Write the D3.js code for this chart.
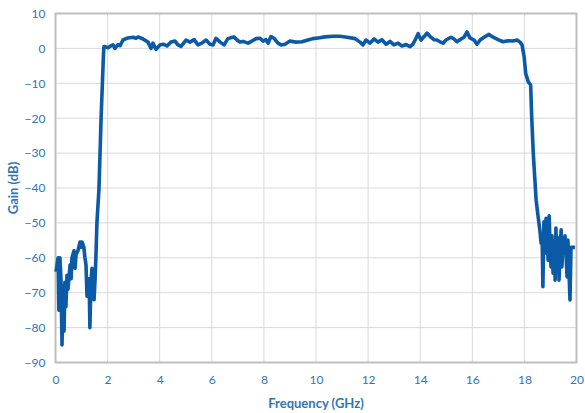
<!DOCTYPE html>
<html>
<head>
<meta charset="utf-8">
<script src="https://cdn.jsdelivr.net/npm/d3@7"></script>
<style>
  body { margin: 0; background: #fff; }
  svg text { font-family: Lato, "Open Sans", sans-serif; fill: #2e75b6; }
  .grid line { stroke: #d9d9d9; stroke-width: 1; }
  .tick text { font-size: 12px; }
</style>
</head>
<body>
<script>
var freq = [
  0.02, 0.06, 0.10, 0.13, 0.17, 0.21, 0.25, 0.29, 0.33, 0.36, 0.40, 0.44, 0.48, 0.56, 0.60, 0.63,
  0.71, 0.75, 0.79, 0.86, 0.94, 0.98, 1.02, 1.09, 1.13, 1.17, 1.21, 1.25, 1.29, 1.32, 1.36, 1.40,
  1.44, 1.48, 1.52, 1.55, 1.59, 1.67, 1.75, 1.80, 1.84, 1.86,
  1.90, 2.02, 2.09, 2.21, 2.28, 2.40, 2.48, 2.59, 2.78, 2.98, 3.09, 3.17, 3.36, 3.55, 3.67, 3.74,
  3.86, 4.01, 4.13, 4.28, 4.43, 4.59, 4.70, 4.82, 5.01, 5.16, 5.32, 5.47, 5.62, 5.78, 5.93, 6.05,
  6.16, 6.32, 6.47, 6.62, 6.85, 6.97, 7.08, 7.20, 7.39, 7.54, 7.70, 7.85, 7.97, 8.08, 8.16, 8.27,
  8.39, 8.54, 8.66, 8.81, 9.00, 9.23, 9.46, 9.69, 9.88, 10.08, 10.35, 10.65, 10.92, 11.19, 11.50, 11.69,
  11.80, 11.92, 12.07, 12.23, 12.38, 12.53, 12.69, 12.84, 12.99, 13.15, 13.30, 13.46, 13.61, 13.72, 13.84, 13.92,
  14.03, 14.15, 14.26, 14.38, 14.53, 14.64, 14.76, 14.88, 14.99, 15.18, 15.30, 15.41, 15.57, 15.68, 15.80, 15.91,
  16.07, 16.18, 16.30, 16.45, 16.64, 16.80, 16.99, 17.18, 17.37, 17.56, 17.72, 17.83, 17.91,
  17.99, 18.05, 18.15, 18.24, 18.28, 18.34, 18.45, 18.52, 18.60, 18.64, 18.68, 18.71, 18.75, 18.79, 18.83, 18.87,
  18.91, 18.95, 18.98, 19.02, 19.06, 19.10, 19.14, 19.18, 19.21, 19.25, 19.29, 19.33, 19.37, 19.41, 19.44, 19.48,
  19.52, 19.56, 19.60, 19.64, 19.67, 19.75, 19.79, 19.87, 19.94
];
var gain = [
  -64, -62, -60, -75, -60, -66, -85, -68, -81, -67, -74, -65, -69, -62, -66, -60,
  -58, -63, -59, -58, -55.5, -57, -55.5, -57, -60, -62, -71, -67, -66, -80, -67, -63,
  -70, -72, -66, -60, -50, -40, -20, -10, -2, 0.5,
  0.5, 0.2, 0.6, 1.0, 0, 1.1, 0.8, 2.4, 3.0, 3.2, 2.9, 3.3, 2.7, 1.8, 0, 1.5,
  -0.3, 1.0, 1.2, 0.7, 1.8, 2.1, 1.0, 0.6, 2.4, 1.8, 2.5, 1.0, 1.5, 2.4, 1.2, 1.0,
  2.9, 1.8, 1.0, 2.8, 3.3, 2.4, 1.8, 2.0, 1.5, 2.1, 2.8, 2.9, 2.1, 2.5, 1.5, 3.4,
  2.9, 1.5, 1.0, 1.2, 2.1, 1.8, 1.9, 2.4, 2.8, 3.0, 3.3, 3.5, 3.5, 3.2, 2.8, 1.8,
  1.0, 2.4, 1.5, 2.7, 1.8, 2.5, 1.2, 2.0, 1.0, 1.5, 0.7, 1.1, 0.5, 1.2, 2.9, 4.2,
  2.4, 3.4, 4.4, 3.4, 2.5, 2.4, 1.9, 1.5, 2.4, 3.2, 2.7, 1.9, 2.7, 3.2, 4.7, 3.0,
  2.4, 1.2, 2.4, 3.2, 4.0, 3.2, 2.5, 1.9, 2.2, 2.1, 2.4, 1.8, 1.0,
  -2.4, -7.2, -9.6, -10.5, -19.6, -30, -43.5, -47.8, -52.5, -55.8, -54, -68.3, -49.7, -58.7, -48.7, -52,
  -60.7, -48, -54.9, -62.6, -53.7, -64.4, -55.8, -66.4, -51.5, -62.6, -54.3, -66.4, -57.8, -52, -62.6, -54.3,
  -58.7, -53.7, -59.6, -65.5, -54.9, -72.1, -57, -57, -57
];
var xTicks = d3.range(0, 21, 2);
var yTicks = d3.range(-90, 11, 10);

var width = 585, height = 413;
var plotLeft = 55.5, plotRight = 576.5, plotTop = 13.5, plotBottom = 362.5;

var svg = d3.select("body").append("svg")
  .attr("width", width)
  .attr("height", height);

var x = d3.scaleLinear().domain([0, 20]).range([plotLeft, plotRight]);
var y = d3.scaleLinear().domain([-90, 10]).range([plotBottom, plotTop]);

// gridlines
svg.append("g").attr("class", "grid")
  .selectAll("line").data(xTicks).enter().append("line")
  .attr("x1", function(d){ return x(d); }).attr("x2", function(d){ return x(d); })
  .attr("y1", plotTop).attr("y2", plotBottom);
svg.append("g").attr("class", "grid")
  .selectAll("line").data(yTicks).enter().append("line")
  .attr("x1", plotLeft).attr("x2", plotRight)
  .attr("y1", function(d){ return y(d); }).attr("y2", function(d){ return y(d); });

// plot frame
svg.append("rect")
  .attr("x", plotLeft).attr("y", plotTop)
  .attr("width", plotRight - plotLeft).attr("height", plotBottom - plotTop)
  .attr("fill", "none").attr("stroke", "#bfbfbf").attr("stroke-width", 2);

// axes (labels only)
var xAxis = svg.append("g")
  .attr("transform", "translate(0," + plotBottom + ")")
  .call(d3.axisBottom(x).tickValues(xTicks).tickSize(0).tickPadding(13));
var yAxis = svg.append("g")
  .attr("transform", "translate(" + plotLeft + ",0)")
  .call(d3.axisLeft(y).tickValues(yTicks).tickSize(0).tickPadding(10));
xAxis.select(".domain").remove();
yAxis.select(".domain").remove();

// the trace
var line = d3.line()
  .x(function(d, i){ return x(freq[i]); })
  .y(function(d){ return y(d); });
svg.append("path")
  .datum(gain)
  .attr("d", line)
  .attr("fill", "none")
  .attr("stroke", "#0a5aa8")
  .attr("stroke-width", 3.6)
  .attr("stroke-linejoin", "round");

// axis titles
svg.append("text")
  .attr("x", (plotLeft + plotRight) / 2).attr("y", 408)
  .attr("text-anchor", "middle")
  .style("font-size", "13px").style("font-weight", "bold")
  .text("Frequency (GHz)");
svg.append("text")
  .attr("transform", "translate(18," + ((plotTop + plotBottom) / 2) + ") rotate(-90)")
  .attr("text-anchor", "middle")
  .style("font-size", "13px").style("font-weight", "bold")
  .text("Gain (dB)");
</script>
</body>
</html>
